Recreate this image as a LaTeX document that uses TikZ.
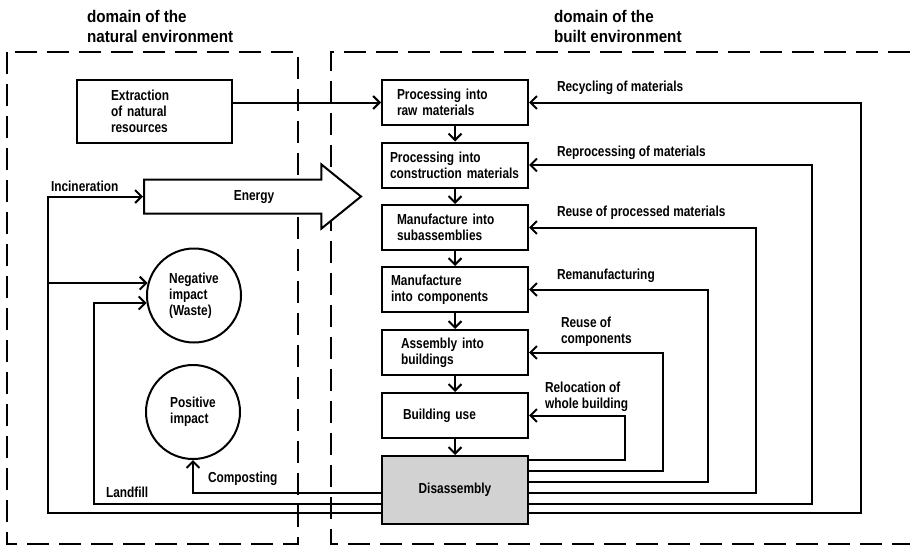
\documentclass[tikz,border=0pt]{standalone}
\usepackage{fontspec}
\setmainfont{Liberation Sans}[FakeStretch=0.82]
\newfontfamily\titlefont{Liberation Sans}[FakeStretch=0.9]
\usetikzlibrary{arrows.meta,shapes.arrows}

\begin{document}
\begin{tikzpicture}[x=1pt,y=-1pt,line width=2pt,>={Straight Barb[length=6.5pt,width=13pt]},
  txt/.style={font=\fontsize{14.5}{16}\selectfont\bfseries,align=left},
  lbl/.style={txt,inner sep=0pt,anchor=west},
  title/.style={font=\titlefont\fontsize{16.9}{20}\selectfont\bfseries,align=left,inner sep=0pt,anchor=west},
  box/.style={txt,draw,rectangle,text width=#1,inner xsep=73pt-#1/2,minimum height=45pt},
  box/.default=116pt,
  circ/.style={txt,draw,circle,minimum size=94pt,inner sep=0pt},
  dom/.style={dash pattern=on 22pt off 10pt}]
\useasboundingbox (0,0) rectangle (910,546);

% domains
\draw[dom] (7,52) rectangle (298,544);
\draw[dom] (910,52) -| (331,544) -- (910,544);
\node[title] (tnat) at (86,26) {domain of the\\natural environment};
\node[title] (tbuilt) at (553,26) {domain of the\\built environment};

% chain of the built environment
\node[box] (raw) at (455,102.5) {Processing into\\raw materials};
\node[box=130pt] (con) at (455,165) {Processing into\\construction materials};
\node[box] (sub) at (455,227.5) {Manufacture into\\subassemblies};
\node[box=128pt] (comp) at (455,289.5) {Manufacture\\into components};
\node[box=108pt] (asm) at (455,352.5) {Assembly into\\buildings};
\node[box=104pt] (use) at (455,415.5) {Building use};
\node[txt,draw,fill=gray!35,minimum width=146pt,minimum height=68pt] (dis) at (455,490) {Disassembly};
\draw[->] (raw) -- (con);
\draw[->] (con) -- (sub);
\draw[->] (sub) -- (comp);
\draw[->] (comp) -- (asm);
\draw[->] (asm) -- (use);
\draw[->] (use) -- (dis);

% natural environment
\node[txt,draw,text width=87pt,inner xsep=34pt,minimum height=63pt] (ext) at (154.5,111.5) {Extraction\\of natural\\resources};
\node[circ] (neg) at (194,295.5) {Negative\\impact\\(Waste)};
\node[circ] (pos) at (193,412) {Positive\\impact};
\node[txt,draw,fill=white,single arrow,anchor=tail,minimum height=217pt,minimum width=62pt,
  text height=10pt,text depth=3pt,inner ysep=9.5pt,inner xsep=2pt,
  single arrow head extend=15pt,single arrow tip angle=78] (energy) at (143,196.5) {\hspace*{24pt}Energy};
\draw[->] (ext.east |- raw.west) -- (raw.west);

% loops back from disassembly
\draw[->] ([yshift=30pt]dis.east) -- ++(96,0) |- (use.east);
\draw[->] ([yshift=19pt]dis.east) -- ++(134,0) |- (asm.east);
\draw[->] ([yshift=8pt]dis.east) -- ++(179,0) |- (comp.east);
\draw[->] ([yshift=-3pt]dis.east) -- ++(227,0) |- (sub.east);
\draw[->] ([yshift=-14pt]dis.east) -- ++(283,0) |- (con.east);
\draw[->] ([yshift=-23pt]dis.east) -- ++(332,0) |- (raw.east);
\node[lbl] (lrecyc) at (556,88) {Recycling of materials};
\node[lbl] (lrepro) at (556,153) {Reprocessing of materials};
\node[lbl] (lreuse) at (556,213) {Reuse of processed materials};
\node[lbl] (lreman) at (556,276) {Remanufacturing};
\node[lbl] (lcomp) at (560,332) {Reuse of\\components};
\node[lbl] (lreloc) at (544,397) {Relocation of\\whole building};

% out of the built environment
\coordinate (inc) at ([xshift=-333pt,yshift=-23pt]dis.west);
\draw[->] ([yshift=-3pt]dis.west) -| (pos.south);
\draw[->] ([yshift=-14pt]dis.west) -- ++(-287,0) |- (neg.189);
\draw[->] ([yshift=-23pt]dis.west) -- (inc) |- (energy.tail);
\draw[->] (inc |- neg.165) -- (neg.165);
\node[lbl] (lcompost) at (207,479) {Composting};
\node[lbl] (lland) at (105,492) {Landfill};
\node[lbl] (linc) at (50,186) {Incineration};
\end{tikzpicture}
\end{document}
